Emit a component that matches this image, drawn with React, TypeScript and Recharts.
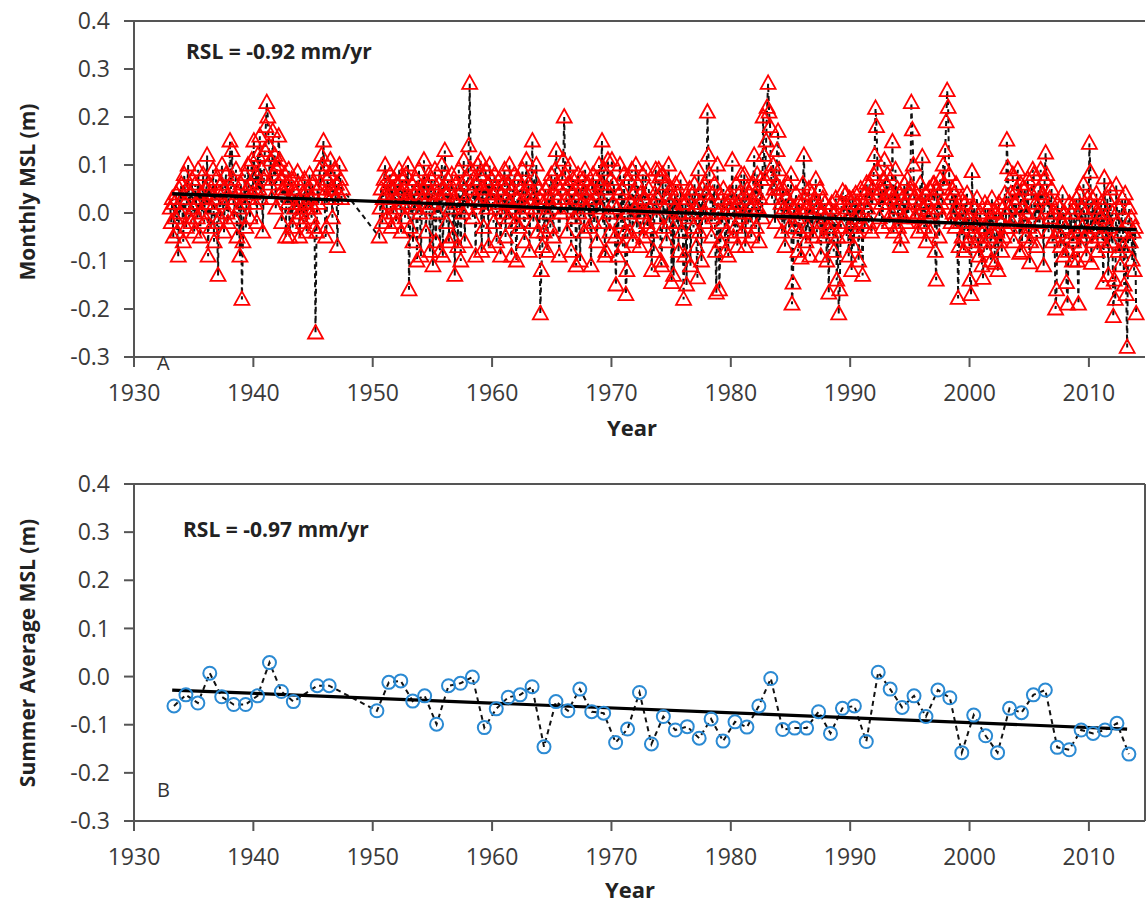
import { ComposedChart, Line, XAxis, YAxis, ReferenceLine } from "recharts"

// Monthly mean sea level (m), one value per month
const monthly1930s = [
  0.01, -0.02, 0.03, -0.05, 0.02, -0.01, 0.04, -0.04, -0.09, 0.05, 0.0, 0.06,
  0.03, -0.06, 0.08, 0.02, -0.03, 0.05, 0.1, -0.01, 0.04, -0.02, 0.07, 0.01,
  -0.04, 0.06, 0.02, -0.01, 0.09, 0.03, -0.05, 0.04, 0.0, 0.08, -0.02, 0.05,
  0.02, 0.12, -0.09, 0.06, 0.04, -0.03, 0.01, 0.09, -0.06, 0.03, 0.07, -0.02,
  -0.13, 0.04, -0.01, 0.06, 0.1, 0.02, -0.04, 0.05, 0.08, 0.0, -0.02, 0.03,
  0.15, 0.05, 0.13, 0.07, -0.01, 0.03, 0.09, -0.05, 0.04, 0.01, -0.09, 0.06,
  -0.18, -0.06, 0.02, 0.08, -0.03, 0.05, 0.1, 0.03, -0.01, 0.06, 0.11, 0.04,
]
const monthly1940s = [
  0.15, 0.02, 0.08, -0.02, 0.12, 0.05, 0.16, 0.03, 0.09, -0.04, 0.07, 0.13,
  0.18, 0.23, 0.2, 0.14, 0.06, 0.11, 0.03, 0.17, 0.08, 0.12, 0.01, 0.09,
  0.1, 0.16, 0.11, 0.07, -0.02, 0.05, 0.04, 0.08, -0.05, 0.06, 0.02, 0.09,
  -0.05, 0.03, 0.07, -0.03, 0.05, 0.01, 0.04, -0.01, 0.085, 0.06, -0.05, 0.02,
  0.0, 0.04, -0.02, 0.07, 0.02, -0.04, 0.05, 0.01, 0.08, 0.03, -0.01, 0.06,
  0.01, -0.03, -0.25, -0.04, 0.05, 0.02, 0.09, 0.06, 0.12, 0.1, 0.15, 0.04,
  -0.05, -0.03, 0.07, 0.03, 0.08, 0.11, 0.05, -0.01, 0.04, 0.09, 0.03, 0.06,
  -0.07, 0.04, 0.1, 0.07, 0.03, 0.05,
]
// record resumes in July 1950
const monthly1950s = [
  -0.05, 0.01, 0.05, -0.02, 0.03, 0.07,
  0.1, 0.04, -0.01, 0.06, 0.02, 0.08, -0.03, 0.05, 0.0, 0.07, 0.03, -0.02,
  0.06, 0.01, 0.09, 0.04, -0.04, 0.07, 0.02, 0.05, -0.01, 0.08, 0.03, 0.1,
  -0.16, -0.03, 0.02, 0.06, -0.06, 0.04, 0.01, 0.07, -0.1, 0.05, 0.09, 0.0,
  -0.09, 0.03, 0.05, 0.11, 0.02, -0.04, 0.06, 0.01, 0.08, -0.08, 0.04, 0.07,
  -0.11, 0.02, 0.09, -0.06, 0.04, 0.0, 0.06, -0.08, 0.03, 0.1, -0.09, 0.05,
  0.13, 0.04, -0.02, 0.07, -0.06, 0.05, 0.01, 0.08, -0.05, 0.03, -0.13, 0.06,
  0.02, -0.07, 0.09, 0.04, -0.1, 0.06, 0.0, 0.11, -0.06, 0.03, 0.07, 0.01,
  0.14, 0.27, 0.09, 0.05, -0.01, 0.07, 0.03, -0.09, 0.06, 0.1, 0.02, 0.08,
  0.11, -0.08, 0.05, -0.03, 0.04, 0.09, 0.01, 0.06, -0.07, 0.1, 0.03, 0.07,
]
const monthly1960s = [
  0.04, -0.02, 0.08, 0.01, -0.06, 0.05, 0.02, 0.07, -0.09, 0.04, 0.0, 0.06,
  0.09, -0.05, 0.03, 0.06, -0.01, 0.1, 0.02, -0.09, 0.05, 0.01, 0.08, -0.02,
  -0.1, 0.03, 0.07, -0.03, 0.05, 0.0, 0.09, 0.02, -0.06, 0.04, 0.11, 0.01,
  0.06, -0.08, 0.02, 0.04, 0.15, -0.02, 0.07, 0.01, 0.1, -0.04, 0.05, 0.03,
  -0.21, -0.12, -0.07, 0.02, -0.04, 0.05, 0.0, -0.08, 0.03, 0.06, -0.03, 0.08,
  0.01, -0.05, 0.04, 0.09, 0.13, 0.06, 0.03, -0.09, 0.05, 0.0, 0.07, 0.11,
  0.2, 0.08, 0.03, -0.04, 0.06, 0.01, 0.1, -0.08, 0.04, 0.07, -0.01, 0.05,
  -0.11, 0.03, 0.08, 0.0, -0.1, 0.05, 0.02, 0.07, -0.04, 0.09, 0.01, 0.04,
  0.06, -0.03, 0.02, -0.11, 0.05, 0.08, -0.02, 0.03, 0.07, -0.06, 0.04, 0.1,
  0.01, 0.06, 0.15, -0.02, 0.09, -0.09, -0.08, 0.05, 0.11, 0.0, -0.04, 0.07,
]
const monthly1970s = [
  0.11, 0.02, 0.06, -0.05, -0.15, 0.01, -0.09, 0.04, 0.1, -0.02, 0.05, -0.07,
  0.08, -0.04, -0.17, -0.12, 0.0, 0.07, -0.04, 0.02, 0.09, -0.06, 0.04, 0.01,
  0.1, -0.03, 0.06, 0.02, -0.07, 0.04, 0.0, 0.08, -0.05, 0.03, 0.09, -0.02,
  -0.03, 0.05, 0.01, -0.04, -0.12, 0.02, -0.08, 0.04, 0.09, -0.01, 0.03, 0.09,
  0.075, -0.1, -0.11, 0.08, -0.03, 0.01, 0.06, -0.06, 0.03, 0.1, -0.02, 0.05,
  -0.145, 0.03, -0.13, 0.01, 0.06, -0.02, 0.04, -0.08, 0.0, 0.07, -0.04, 0.02,
  -0.18, -0.09, 0.02, -0.15, 0.03, -0.01, 0.05, -0.11, 0.0, 0.04, -0.03, 0.06,
  0.01, -0.07, -0.135, 0.09, -0.04, 0.02, -0.1, 0.05, 0.0, 0.06, -0.02, 0.04,
  0.21, 0.12, 0.08, 0.02, -0.05, 0.04, -0.01, 0.06, -0.08, -0.167, 0.1, 0.0,
  -0.16, -0.06, 0.03, -0.02, 0.05, 0.0, -0.08, -0.04, 0.02, -0.09, 0.04, 0.01,
]
const monthly1980s = [
  0.03, 0.11, -0.05, 0.01, -0.03, 0.06, -0.07, 0.02, 0.04, -0.01, 0.08, -0.04,
  0.0, 0.08, -0.07, 0.03, 0.05, -0.02, 0.04, 0.01, -0.05, 0.02, 0.06, 0.12,
  0.04, -0.03, 0.08, 0.01, -0.06, 0.03, 0.07, -0.01, 0.2, 0.12, 0.07, 0.15,
  0.22, 0.27, 0.21, 0.18, 0.08, 0.03, 0.1, 0.05, -0.02, 0.06, 0.13, 0.17,
  0.09, 0.05, 0.02, -0.04, 0.05, 0.01, -0.07, 0.03, 0.0, 0.06, -0.03, 0.02,
  0.08, -0.19, -0.146, 0.01, -0.03, 0.04, -0.01, -0.08, 0.02, -0.04, -0.094, 0.0,
  0.06, 0.12, 0.03, -0.06, 0.01, -0.03, 0.05, -0.09, 0.0, 0.04, -0.05, 0.02,
  0.03, 0.07, -0.04, 0.01, -0.02, 0.05, -0.09, 0.0, 0.03, -0.05, 0.02, -0.01,
  -0.1, -0.03, -0.167, 0.01, -0.04, 0.02, -0.02, -0.08, 0.0, 0.03, -0.14, -0.05,
  -0.21, -0.16, -0.03, 0.02, 0.045, 0.0, -0.02, 0.04, -0.05, 0.01, -0.09, 0.03,
]
const monthly1990s = [
  -0.03, -0.12, 0.03, -0.07, -0.01, 0.04, -0.04, 0.02, -0.1, 0.0, 0.05, -0.02,
  -0.13, 0.02, -0.03, 0.04, 0.062, 0.01, -0.02, 0.06, 0.03, -0.04, 0.05, 0.08,
  0.12, 0.218, 0.18, 0.09, 0.04, -0.01, 0.05, 0.02, -0.03, 0.07, 0.11, 0.03,
  0.06, 0.08, 0.02, -0.02, 0.04, 0.0, 0.148, -0.04, 0.03, 0.09, 0.01, 0.05,
  -0.03, 0.04, -0.07, -0.05, 0.03, -0.01, 0.06, 0.02, -0.02, 0.07, 0.0, 0.04,
  0.05, 0.23, 0.173, 0.1, 0.03, -0.01, 0.04, 0.0, -0.04, 0.02, 0.06, -0.02,
  0.117, 0.01, -0.03, 0.04, -0.06, 0.02, -0.01, 0.05, -0.04, 0.0, 0.03, 0.06,
  0.06, -0.08, -0.14, 0.05, 0.01, -0.05, 0.07, 0.02, -0.01, 0.1, 0.06, 0.13,
  0.19, 0.255, 0.22, 0.08, 0.03, -0.02, 0.05, 0.0, 0.04, -0.03, 0.06, 0.01,
  -0.178, -0.07, -0.02, 0.03, -0.05, 0.0, -0.08, 0.02, -0.03, 0.04, -0.06, -0.01,
]
const monthly2000s = [
  -0.14, -0.17, 0.086, -0.04, 0.01, -0.07, -0.02, 0.03, -0.05, -0.09, 0.0, -0.03,
  -0.11, -0.136, -0.06, 0.02, -0.03, -0.08, 0.01, -0.05, -0.01, -0.1, 0.03, -0.04,
  0.003, -0.105, 0.0, -0.04, -0.12, 0.02, -0.06, -0.02, -0.08, 0.01, -0.05, 0.04,
  -0.03, 0.152, 0.094, 0.01, -0.03, 0.04, -0.02, 0.08, -0.06, 0.02, -0.01, 0.05,
  0.09, 0.03, -0.084, 0.06, -0.08, 0.01, -0.02, 0.05, -0.05, 0.0, 0.07, -0.03,
  -0.104, -0.06, 0.04, 0.09, 0.08, -0.04, 0.02, -0.07, 0.0, 0.05, -0.02, 0.09,
  0.03, 0.04, -0.11, 0.07, 0.125, 0.08, 0.01, -0.04, 0.03, -0.01, 0.05, -0.06,
  0.0, -0.05, -0.2, -0.16, 0.02, -0.04, 0.01, -0.07, -0.02, 0.04, -0.09, 0.0,
  -0.03, -0.145, -0.19, -0.08, 0.02, -0.05, 0.0, -0.1, -0.06, 0.01, -0.04, 0.03,
  -0.1, -0.19, 0.04, -0.07, 0.01, -0.03, 0.06, -0.05, 0.0, -0.09, 0.03, -0.04,
]
const monthly2010s = [
  0.145, 0.085, -0.105, 0.03, -0.06, 0.01, -0.03, 0.04, -0.08, 0.0, -0.05, -0.01,
  0.02, -0.04, -0.146, 0.073, -0.01, -0.07, 0.03, -0.13, -0.03, 0.05, -0.06, 0.0,
  -0.216, -0.14, -0.18, 0.058, -0.02, -0.08, 0.01, -0.11, -0.04, 0.03, -0.07, -0.15,
  0.04, -0.17, -0.28, -0.02, 0.01, -0.06, -0.01, -0.098, -0.04, -0.12, -0.03, -0.21,
]

// Summer average MSL (m), lower panel
const summerYears = [
  1933, 1934, 1935, 1936, 1937, 1938, 1939, 1940, 1941, 1942, 1943, 1945, 1946,
  1950, 1951, 1952, 1953, 1954, 1955, 1956, 1957, 1958, 1959,
  1960, 1961, 1962, 1963, 1964, 1965, 1966, 1967, 1968, 1969,
  1970, 1971, 1972, 1973, 1974, 1975, 1976, 1977, 1978, 1979,
  1980, 1981, 1982, 1983, 1984, 1985, 1986, 1987, 1988, 1989,
  1990, 1991, 1992, 1993, 1994, 1995, 1996, 1997, 1998, 1999,
  2000, 2001, 2002, 2003, 2004, 2005, 2006, 2007, 2008, 2009,
  2010, 2011, 2012, 2013,
]
const summerMsl = [
  -0.061, -0.038, -0.055, 0.007, -0.042, -0.058, -0.058, -0.04, 0.029, -0.031, -0.052, -0.019, -0.019,
  -0.071, -0.012, -0.009, -0.051, -0.04, -0.099, -0.019, -0.014, -0.001, -0.106,
  -0.067, -0.043, -0.038, -0.021, -0.146, -0.052, -0.071, -0.026, -0.073, -0.076,
  -0.137, -0.109, -0.033, -0.14, -0.083, -0.111, -0.104, -0.128, -0.088, -0.134,
  -0.094, -0.105, -0.061, -0.004, -0.11, -0.107, -0.107, -0.073, -0.118, -0.066,
  -0.061, -0.135, 0.009, -0.026, -0.064, -0.04, -0.083, -0.028, -0.044, -0.158,
  -0.08, -0.123, -0.158, -0.066, -0.075, -0.038, -0.028, -0.147, -0.152, -0.111,
  -0.118, -0.111, -0.097, -0.161,
]

// Linear trends (end points of the fitted lines)
const monthlyTrend = [
  { year: 1933.2, msl: 0.04 },
  { year: 2014.0, msl: -0.035 },
]
const summerTrend = [
  { year: 1933.2, msl: -0.028 },
  { year: 2013.2, msl: -0.109 },
]

const yTicks = [-0.3, -0.2, -0.1, 0, 0.1, 0.2, 0.3, 0.4]
const xTicks = [1930, 1940, 1950, 1960, 1970, 1980, 1990, 2000, 2010]
const X_MAX = 2014.7

const monthlySegments = [
  { start: 1933, values: monthly1930s },
  { start: 1940, values: monthly1940s },
  { start: 1950.5, values: monthly1950s },
  { start: 1960, values: monthly1960s },
  { start: 1970, values: monthly1970s },
  { start: 1980, values: monthly1980s },
  { start: 1990, values: monthly1990s },
  { start: 2000, values: monthly2000s },
  { start: 2010, values: monthly2010s },
]

const monthlyData = monthlySegments.flatMap((seg) =>
  seg.values.map((v, i) => ({ year: seg.start + (i + 0.5) / 12, msl: v }))
)
const summerData = summerYears.map((y, i) => ({ year: y + 0.35, msl: summerMsl[i] }))

const AXIS = "#555555"
const tickStyle = { fontSize: 23, fill: "#3a3a3a", fontFamily: "Open Sans" }

const Triangle = (props: any) => {
  const { cx, cy, index } = props
  if (cx == null || cy == null) return <g key={`t-${index}`} />
  return (
    <path
      key={`t-${index}`}
      d={`M${cx},${cy - 8} L${cx + 7.5},${cy + 5.5} L${cx - 7.5},${cy + 5.5} Z`}
      fill="none"
      stroke="#ff0000"
      strokeWidth={1.8}
    />
  )
}

const Ring = (props: any) => {
  const { cx, cy, index } = props
  if (cx == null || cy == null) return <g key={`c-${index}`} />
  return <circle key={`c-${index}`} cx={cx} cy={cy} r={6.5} fill="none" stroke="#2b8ad3" strokeWidth={2} />
}

// bare = same geometry, axes invisible (used to lay the trend line above the markers)
function Panel({ children, height, bare }: { children: any; height: number; bare?: boolean }) {
  return (
    <ComposedChart width={1146} height={height} margin={{ top: 21, right: 1, bottom: 0, left: 0 }}>
      <XAxis
        type="number"
        dataKey="year"
        domain={[1930, X_MAX]}
        ticks={xTicks}
        height={60}
        tickSize={10}
        tickMargin={18}
        axisLine={bare ? false : { stroke: AXIS, strokeWidth: 2 }}
        tickLine={bare ? false : { stroke: AXIS, strokeWidth: 2 }}
        tick={bare ? false : tickStyle}
        allowDataOverflow
      />
      <YAxis
        type="number"
        domain={[-0.3, 0.4]}
        ticks={yTicks}
        width={134}
        tickSize={10}
        tickMargin={14}
        axisLine={bare ? false : { stroke: AXIS, strokeWidth: 2 }}
        tickLine={bare ? false : { stroke: AXIS, strokeWidth: 2 }}
        tick={bare ? false : tickStyle}
        tickFormatter={(v: number) => v.toFixed(1)}
        allowDataOverflow
      />
      {!bare && <ReferenceLine y={0.4} stroke={AXIS} strokeWidth={2} />}
      {children}
    </ComposedChart>
  )
}

const layer = (top: number) => ({ position: "absolute" as const, left: 0, top })

export default function App() {
  return (
    <div style={{ position: "absolute", left: 0, top: 0, width: 1146, height: 904, background: "#fff", fontFamily: "Open Sans" }}>
      <div style={layer(0)}>
        <Panel height={417}>
          <Line
            data={monthlyData}
            dataKey="msl"
            stroke="#111"
            strokeWidth={2}
            strokeDasharray="5 4"
            dot={Triangle}
            activeDot={false}
            isAnimationActive={false}
          />
        </Panel>
      </div>
      <div style={layer(0)}>
        <Panel height={417} bare>
          <Line data={monthlyTrend} dataKey="msl" stroke="#000" strokeWidth={3.4} dot={false} activeDot={false} isAnimationActive={false} />
        </Panel>
      </div>
      <div style={layer(463)}>
        <Panel height={418}>
          <ReferenceLine x={X_MAX} stroke={AXIS} strokeWidth={2} />
          <Line
            data={summerData}
            dataKey="msl"
            stroke="#111"
            strokeWidth={2}
            strokeDasharray="5 4"
            dot={Ring}
            activeDot={false}
            isAnimationActive={false}
          />
          <Line data={summerTrend} dataKey="msl" stroke="#000" strokeWidth={3.2} dot={false} activeDot={false} isAnimationActive={false} />
        </Panel>
      </div>
      <svg width={1146} height={904} style={{ position: "absolute", left: 0, top: 0, pointerEvents: "none" }}>
        <g fontFamily="Open Sans" fill="#222">
          <text x={186} y={59} fontSize={21} fontWeight="bold">RSL = -0.92 mm/yr</text>
          <text x={183} y={537} fontSize={21} fontWeight="bold">RSL = -0.97 mm/yr</text>
          <text x={157} y={370} fontSize={20} fill="#333">A</text>
          <text x={157} y={797} fontSize={20} fill="#333">B</text>
          <text x={632} y={436} fontSize={22} fontWeight="bold" textAnchor="middle">Year</text>
          <text x={630} y={898} fontSize={22} fontWeight="bold" textAnchor="middle">Year</text>
          <text x={35} y={192} fontSize={21} fontWeight="bold" textAnchor="middle" transform="rotate(-90 35 192)">
            Monthly MSL (m)
          </text>
          <text x={35} y={653} fontSize={21} fontWeight="bold" textAnchor="middle" transform="rotate(-90 35 653)">
            Summer Average MSL (m)
          </text>
        </g>
      </svg>
    </div>
  )
}
